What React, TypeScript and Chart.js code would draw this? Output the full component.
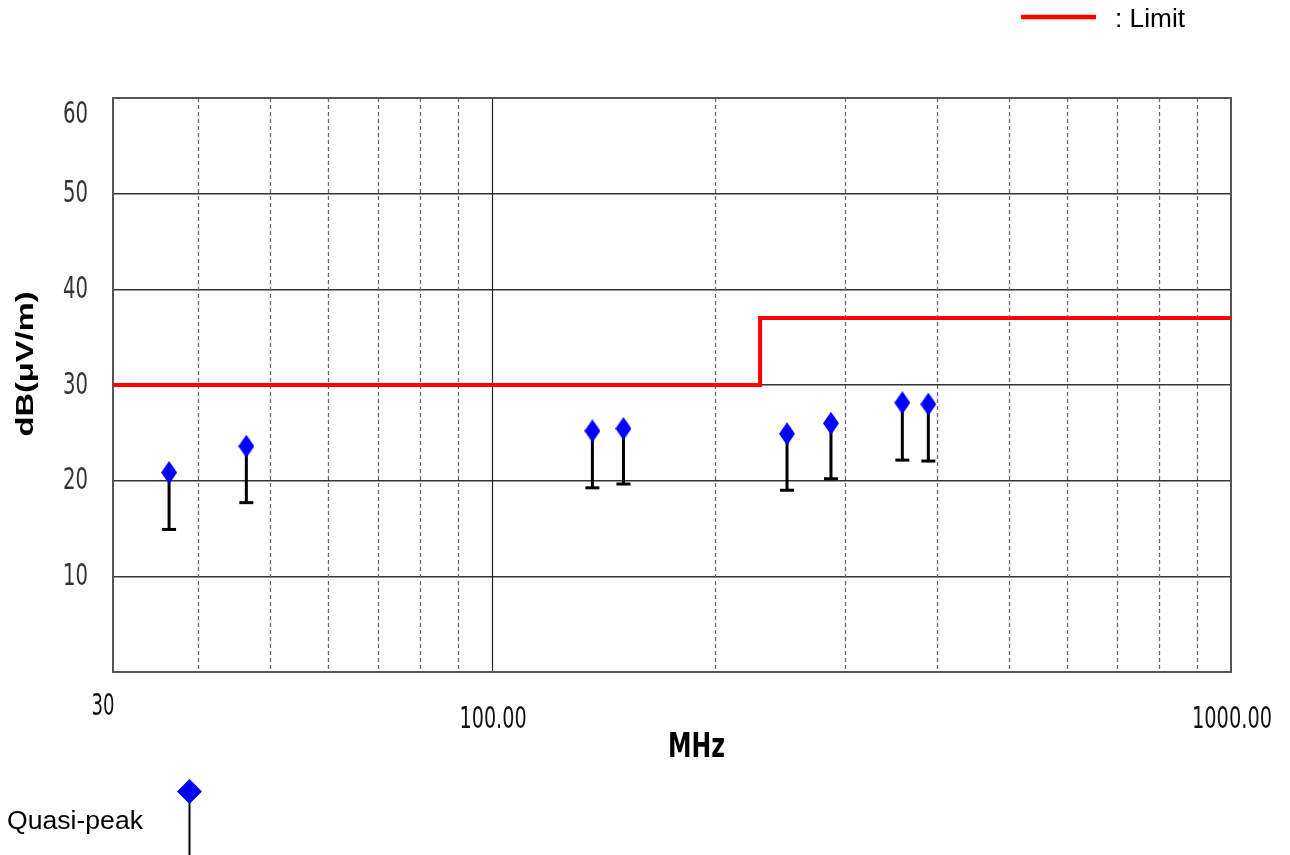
import React, { useEffect, useRef } from "react";
import { Chart, registerables } from "chart.js";

Chart.register(...registerables);

// ---- data ----
const frequenciesMHz = [36.55, 46.5, 136.7, 150.6, 250.7, 287.5, 359.1, 389.4];
const quasiPeakDb = [20.85, 23.6, 25.2, 25.45, 24.9, 26.0, 28.15, 28.0];
const stemBaseDb = [14.9, 17.7, 19.25, 19.65, 19.0, 20.2, 22.15, 22.05];
const limitFreqs = [30, 230.5, 230.5, 1000];
const limitDb = [30, 30, 37, 37];
const yTickValues = [10, 20, 30, 40, 50, 60];
const xMinorGrid = [40, 50, 60, 70, 80, 90, 200, 300, 400, 500, 600, 700, 800, 900];
const xMajorGrid = [100];
const xTickValues = [30.69, 100, 1000];
const xTickLabels = ["30", "100.00", "1000.00"];
const X_MIN = 30.69;
const X_MAX = 1000;

function makeDiamond(w: number, h: number, color: string) {
  const c = document.createElement("canvas");
  c.width = w;
  c.height = h;
  const g = c.getContext("2d")!;
  g.fillStyle = color;
  g.beginPath();
  g.moveTo(w / 2, 0);
  g.lineTo(w, h / 2);
  g.lineTo(w / 2, h);
  g.lineTo(0, h / 2);
  g.closePath();
  g.fill();
  return c;
}

function fitText(
  ctx: CanvasRenderingContext2D,
  text: string,
  x: number,
  y: number,
  font: string,
  width: number,
  align: CanvasTextAlign,
  color: string,
  rotate = 0
) {
  ctx.save();
  ctx.font = font;
  const w = ctx.measureText(text).width;
  const s = width / w;
  ctx.translate(x, y);
  if (rotate) ctx.rotate(rotate);
  ctx.scale(s, 1);
  ctx.textAlign = align;
  ctx.textBaseline = "alphabetic";
  ctx.fillStyle = color;
  ctx.fillText(text, 0, 0);
  ctx.restore();
}

const NARROW = '"Liberation Sans Narrow", "DejaVu Sans Condensed", "Liberation Sans", sans-serif';
const ARIAL = '"Liberation Sans", Arial, sans-serif';

const decorPlugin = {
  id: "decor",
  beforeDatasetsDraw(chart: any) {
    const { ctx, chartArea, scales } = chart;
    const xs = scales.x;
    ctx.save();
    // dashed minor verticals
    ctx.strokeStyle = "#6a6a6a";
    ctx.lineWidth = 1.3;
    ctx.setLineDash([4, 3]);
    xMinorGrid.forEach((v) => {
      const px = Math.round(xs.getPixelForValue(v)) + 0.5;
      ctx.beginPath();
      ctx.moveTo(px, chartArea.top);
      ctx.lineTo(px, chartArea.bottom);
      ctx.stroke();
    });
    ctx.setLineDash([]);
    ctx.strokeStyle = "#222";
    ctx.lineWidth = 1.2;
    xMajorGrid.forEach((v) => {
      const px = Math.round(xs.getPixelForValue(v)) + 0.5;
      ctx.beginPath();
      ctx.moveTo(px, chartArea.top);
      ctx.lineTo(px, chartArea.bottom);
      ctx.stroke();
    });
    // frame
    ctx.strokeStyle = "#555";
    ctx.lineWidth = 2;
    ctx.strokeRect(chartArea.left, chartArea.top, chartArea.right - chartArea.left, chartArea.bottom - chartArea.top);
    ctx.restore();
  },
  afterDraw(chart: any) {
    const { ctx, scales } = chart;
    const xs = scales.x;
    const ys = scales.y;
    // y tick labels
    yTickValues.forEach((v) => {
      const py = ys.getPixelForValue(v);
      const cy = v === 60 ? py + 14 : py - 2;
      fitText(ctx, String(v), 88, cy + 10.8, `30px ${NARROW}`, 25, "right", "#333");
    });
    // x tick labels
    xTickValues.forEach((v, i) => {
      const px = xs.getPixelForValue(v);
      const text = xTickLabels[i];
      if (i === 0) {
        fitText(ctx, text, px - 10, 704 + 10.8, `30px ${NARROW}`, 23, "center", "#111");
      } else {
        const w = i === 1 ? 67 : 80;
        fitText(ctx, text, px + 1, 717 + 10.8, `30px ${NARROW}`, w, "center", "#111");
      }
    });
    // x title
    fitText(ctx, "MHz", 696.5, 757, `bold 33px ${NARROW}`, 57, "center", "#000");
    // y title
    fitText(ctx, "dB(\u03bcV/m)", 33, 364, `bold 24px ${ARIAL}`, 145, "center", "#000", -Math.PI / 2);
    // top legend: limit
    ctx.save();
    ctx.strokeStyle = "#ff0000";
    ctx.lineWidth = 4.5;
    ctx.beginPath();
    ctx.moveTo(1021, 17);
    ctx.lineTo(1096, 17);
    ctx.stroke();
    ctx.restore();
    fitText(ctx, ": Limit", 1115, 27, `26px ${ARIAL}`, 70, "left", "#000");
    // bottom legend: quasi-peak
    fitText(ctx, "Quasi-peak", 7, 829, `26px ${ARIAL}`, 136, "left", "#000");
    ctx.save();
    ctx.strokeStyle = "#000";
    ctx.lineWidth = 2;
    ctx.beginPath();
    ctx.moveTo(189.5, 800);
    ctx.lineTo(189.5, 855);
    ctx.stroke();
    ctx.fillStyle = "#0000ff";
    ctx.beginPath();
    ctx.moveTo(189.5, 779);
    ctx.lineTo(202, 791.5);
    ctx.lineTo(189.5, 804);
    ctx.lineTo(177, 791.5);
    ctx.closePath();
    ctx.fill();
    ctx.restore();
  },
};

export default function App() {
  const ref = useRef<HTMLCanvasElement | null>(null);
  useEffect(() => {
    if (!ref.current) return;
    const diamond = makeDiamond(16, 23, "#0000ff");
    const stemData: any[] = [];
    frequenciesMHz.forEach((f, i) => {
      stemData.push({ x: f, y: stemBaseDb[i] });
      stemData.push({ x: f, y: quasiPeakDb[i] });
      stemData.push({ x: f, y: null });
    });
    const chart = new Chart(ref.current, {
      type: "scatter",
      data: {
        datasets: [
          {
            label: "Quasi-peak",
            data: frequenciesMHz.map((f, i) => ({ x: f, y: quasiPeakDb[i] })),
            pointStyle: diamond as any,
            pointRadius: 8,
            order: 0,
          },
          {
            label: "caps",
            data: frequenciesMHz.map((f, i) => ({ x: f, y: stemBaseDb[i] })),
            pointStyle: "line",
            pointRadius: 7,
            borderWidth: 3,
            pointBorderWidth: 3,
            borderColor: "#000",
            pointBorderColor: "#000",
            order: 1,
          },
          {
            type: "line",
            label: "stems",
            data: stemData,
            borderColor: "#000",
            borderWidth: 3,
            pointRadius: 0,
            spanGaps: false,
            order: 2,
          } as any,
          {
            type: "line",
            label: "Limit",
            data: limitFreqs.map((f, i) => ({ x: f, y: limitDb[i] })),
            borderColor: "#ff0000",
            borderWidth: 4,
            pointRadius: 0,
            order: 3,
          } as any,
        ],
      },
      options: {
        animation: false,
        responsive: true,
        maintainAspectRatio: false,
        layout: { padding: { top: 98, right: 59, left: 0, bottom: 0 } },
        plugins: { legend: { display: false }, tooltip: { enabled: false }, title: { display: false } },
        events: [],
        scales: {
          x: {
            type: "logarithmic",
            min: X_MIN,
            max: X_MAX,
            grid: { display: false },
            border: { display: false },
            ticks: { display: false },
            afterFit: (s: any) => {
              s.height = 183;
            },
          },
          y: {
            type: "linear",
            min: 0,
            max: 60,
            ticks: { display: false, stepSize: 10 },
            grid: { color: "#333", lineWidth: 1.4, drawTicks: false },
            border: { display: false },
            afterFit: (s: any) => {
              s.width = 113;
            },
          },
        },
      },
      plugins: [decorPlugin],
    });
    return () => chart.destroy();
  }, []);
  return (
    <div style={{ position: "absolute", left: 0, top: 0, width: 1290, height: 855, background: "#fff" }}>
      <canvas ref={ref} />
    </div>
  );
}
